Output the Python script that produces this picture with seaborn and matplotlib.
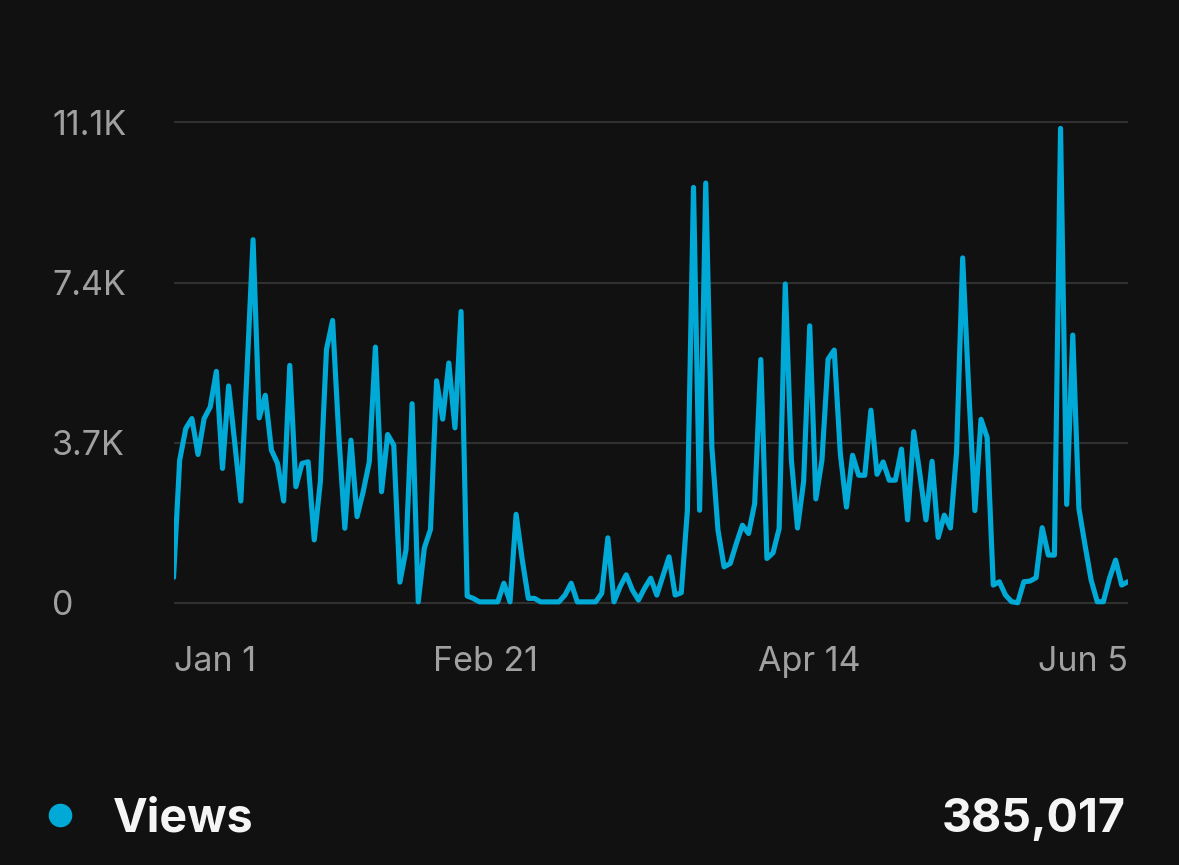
import matplotlib
matplotlib.use("Agg")
import matplotlib.pyplot as plt
import seaborn as sns
import pandas as pd
from matplotlib.lines import Line2D

# Daily views, Jan 1 - Jun 5 2024
dates = pd.date_range("2024-01-01", "2024-06-05", freq="D")
views = [
    584, 3296, 4026, 4257, 3427, 4257, 4526, 5348, 3104, 5010,
    3700, 2351, 5333, 8391, 4272, 4795, 3527, 3220, 2351, 5486,
    2682, 3220, 3258, 1452, 2797, 5855, 6524, 3900, 1721, 3757,
    1990, 2566, 3258, 5909, 2566, 3888, 3642, 476, 1222, 4600,
    20, 1267, 1694, 5130, 4244, 5542, 4042, 6731, 155, 100,
    20, 20, 20, 20, 451, 20, 2044, 995, 101, 101,
    20, 20, 20, 20, 179, 451, 20, 20, 20, 20,
    218, 1500, 20, 373, 645, 295, 62, 334, 567, 177,
    615, 1061, 177, 231, 2138, 9600, 2138, 9700, 3600, 1676,
    830, 907, 1369, 1792, 1600, 2292, 5621, 1023, 1153, 1715,
    7367, 3300, 1726, 2800, 6400, 2400, 3300, 5630, 5840, 3450,
    2210, 3408, 2946, 2946, 4450, 2969, 3254, 2831, 2833, 3550,
    1915, 3955, 2980, 1915, 3270, 1510, 2025, 1728, 3470, 7970,
    4900, 2130, 4240, 3820, 408, 485, 177, 23, 0, 485,
    500, 578, 1734, 1102, 1102, 10963, 2273, 6186, 2181, 1333,
    524, 23, 23, 562, 986, 408, 485,
]

y_ticks = [0, 3700, 7400, 11100]
y_labels = ["0", "3.7K", "7.4K", "11.1K"]
x_tick_dates = pd.to_datetime(["2024-01-01", "2024-02-21", "2024-04-14", "2024-06-05"])
x_labels = ["Jan 1", "Feb 21", "Apr 14", "Jun 5"]
series_name = "Views"
total_label = "385,017"

BG = "#111111"
LINE = "#00a9d6"
GRID = "#303030"
TICK = "#a0a0a0"

sns.set_style("dark", {"axes.facecolor": BG, "figure.facecolor": BG})
plt.rcParams["font.family"] = ["Inter", "DejaVu Sans"]

df = pd.DataFrame({"Date": dates, series_name: views})

fig = plt.figure(figsize=(11.79, 8.65), dpi=100)
ax = fig.add_axes([0.1472, 0.2882, 0.8094, 0.5852])

sns.lineplot(data=df, x="Date", y=series_name, ax=ax, color=LINE,
             linewidth=3.7, solid_joinstyle="round", solid_capstyle="round")

ax.set_xlim(dates[0], dates[-1])
ax.set_ylim(-300, 11400)

# grid + ticks
ax.set_yticks(y_ticks)
ax.set_yticklabels(y_labels)
ax.set_xticks(x_tick_dates)
ax.set_xticklabels(x_labels)
ax.yaxis.grid(True, color=GRID, linewidth=1.5)
ax.xaxis.grid(False)
ax.tick_params(axis="y", length=0, pad=87.5, labelsize=24.5, labelcolor=TICK)
ax.tick_params(axis="x", length=0, pad=22, labelsize=24.5, labelcolor=TICK)
for lbl in ax.get_yticklabels():
    lbl.set_horizontalalignment("left")
xl = ax.get_xticklabels()
xl[0].set_horizontalalignment("left")
xl[-1].set_horizontalalignment("right")

ax.set_xlabel("")
ax.set_ylabel("")
for s in ax.spines.values():
    s.set_visible(False)

# legend row at the bottom
fig.add_artist(Line2D([0.0509], [0.0578], marker="o", markersize=16, color=LINE,
                      linestyle="none", transform=fig.transFigure))
fig.text(0.0957, 0.0382, series_name, color="#f5f5f5", fontsize=33.5,
         fontweight="bold", ha="left", va="baseline")
fig.text(0.955, 0.0382, total_label, color="#f5f5f5", fontsize=33.5,
         fontweight="bold", ha="right", va="baseline")

fig.savefig("out.png", dpi=100, facecolor=BG)
